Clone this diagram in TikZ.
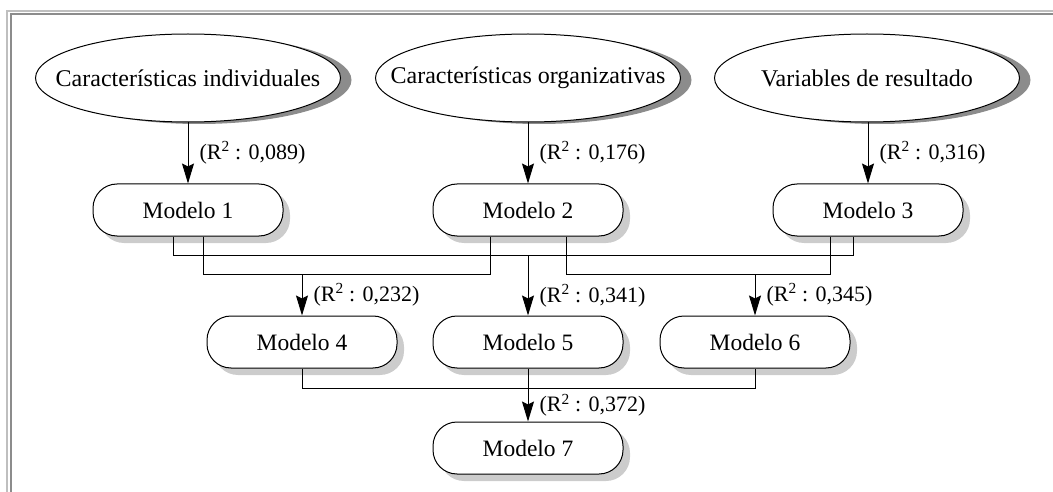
\documentclass[tikz,border=0pt]{standalone}
\usepackage{fontspec}
\setmainfont{Liberation Serif}
\usetikzlibrary{shapes.geometric,shadows,arrows.meta}
\tikzset{
  factor/.style={ellipse,draw,fill=white,minimum width=305pt,minimum height=88pt,inner sep=0pt,
    font=\fontsize{24}{28}\selectfont,
    drop shadow={shadow xshift=11pt,shadow yshift=-2pt,fill=black!45,opacity=1}},
  modelo/.style={rectangle,rounded corners=24pt,draw,fill=white,minimum width=190pt,minimum height=52pt,
    font=\fontsize{23.5}{28}\selectfont,
    drop shadow={shadow xshift=7pt,shadow yshift=-7pt,fill=black!20,opacity=1}},
  rlab/.style={right,xshift=9pt,inner sep=2pt},
  arr/.style={-{Stealth[length=20pt,width=12pt,inset=3pt]}}
}
\begin{document}
\begin{tikzpicture}[x=1pt,y=-1pt,line width=1pt,font=\fontsize{22}{26}\selectfont]
\useasboundingbox (0,0) rectangle (1053,492);
% marco
\draw[black!25,line width=1.5pt] (7,492) |- (1053,11);
\draw[black!45,line width=2pt] (10.5,492) |- (1053,14.5);
% grupos de variables
\node[factor,label={[font=\fontsize{24}{28}\selectfont]center:Características individuales}] (e1) at (188,78) {};
\node[factor,label={[font=\fontsize{24}{28}\selectfont]center:Características organizativas}] (e2) at (528,78) {};
\node[factor,label={[font=\fontsize{24}{28}\selectfont]center:Variables de resultado}] (e3) at (867,78) {};
% modelos
\foreach \n/\x/\y in {1/188/210,2/528/210,3/868/210,4/302/342,5/528/342,6/755/342,7/528/448}
  \node[modelo] (m\n) at (\x,\y) {Modelo \n};
\coordinate (hup) at (0,255);
\coordinate (hlow) at (0,274);
\foreach \i/\r in {1/089,2/176,3/316}
  \draw[arr] (e\i.south -| m\i) -- (m\i) node[rlab,midway] {(R\textsuperscript{2} : 0,\r)};
% uniones
\draw ([xshift=-15pt]m1.south) -- ++(0,19) -| ([xshift=-15pt]m3.south);
\draw ([xshift=15pt]m1.south) -- ++(0,38) -| ([xshift=-38pt]m2.south);
\draw ([xshift=38pt]m2.south) -- ++(0,38) -| ([xshift=-38pt]m3.south);
\draw (m4.south) -- ++(0,20) -| (m6.south);
\draw[arr] (m4 |- hlow) -- (m4.north) node[rlab,midway] {(R\textsuperscript{2} : 0,232)};
\draw[arr] (m5 |- hup) -- (m5.north) node[rlab,pos=.67] {(R\textsuperscript{2} : 0,341)};
\draw[arr] (m6 |- hlow) -- (m6.north) node[rlab,midway] {(R\textsuperscript{2} : 0,345)};
\draw[arr] (m5.south) -- (m7.north) node[rlab,pos=.69] {(R\textsuperscript{2} : 0,372)};
\end{tikzpicture}
\end{document}
